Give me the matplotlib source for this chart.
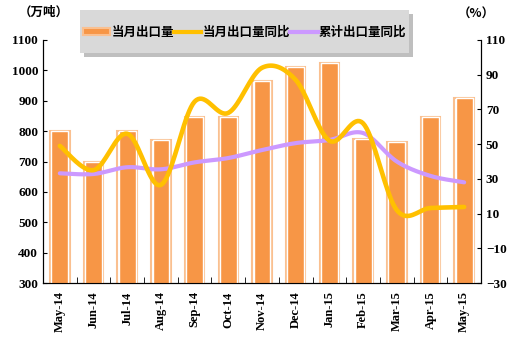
import numpy as np
import matplotlib
matplotlib.use("Agg")
import matplotlib.pyplot as plt
from matplotlib.patches import Patch, Rectangle
from matplotlib.lines import Line2D

plt.rcParams["font.family"] = ["Liberation Serif", "Noto Sans CJK SC", "DejaVu Sans"]

# data
months = ["May-14", "Jun-14", "Jul-14", "Aug-14", "Sep-14", "Oct-14", "Nov-14",
          "Dec-14", "Jan-15", "Feb-15", "Mar-15", "Apr-15", "May-15"]
export_vol = [800, 700, 800, 771, 847, 847, 965, 1010, 1023, 773, 763, 846, 910]
export_yoy = [49, 35, 56, 26.5, 74.5, 68, 94, 87, 52, 62, 12, 13.2, 13.8]
cum_yoy = [33.2, 32.8, 36.7, 35.5, 39.5, 42, 46.6, 50.6, 52.4, 56.4, 40, 31.7, 28]

ORANGE = "#F79646"
LIGHT = "#FAC090"
YELLOW = "#FFC000"
LAVENDER = "#CC99FF"
W, H = 520, 346


# excel-like smoothed line (catmull-rom between the points)
def smooth(x, y, n=20):
    x = np.asarray(x, float)
    y = np.asarray(y, float)
    px = np.concatenate([[x[0]], x, [x[-1]]])
    py = np.concatenate([[y[0]], y, [y[-1]]])
    xs, ys = [], []
    t = np.linspace(0, 1, n)
    for i in range(1, len(px) - 2):
        for arr, out in ((px, xs), (py, ys)):
            p0, p1, p2, p3 = arr[i - 1], arr[i], arr[i + 1], arr[i + 2]
            out.extend(0.5 * ((2 * p1) + (-p0 + p2) * t
                              + (2 * p0 - 5 * p1 + 4 * p2 - p3) * t ** 2
                              + (-p0 + 3 * p1 - 3 * p2 + p3) * t ** 3))
    return np.array(xs), np.array(ys)


fig = plt.figure(figsize=(W / 100, H / 100), dpi=100)
ax = fig.add_axes([43 / W, 1 - 283 / H, 438 / W, 243 / H])
x = np.arange(len(months))

ax.bar(x, export_vol, width=0.58, color="none", edgecolor=LIGHT, linewidth=1.5, zorder=2)
ax.bar(x, export_vol, width=0.5, color=ORANGE, edgecolor="white", linewidth=1.0, zorder=3)
ax.set_ylim(300, 1100)
ax.set_yticks(range(300, 1101, 100))
ax.set_xlim(-0.5, len(months) - 0.5)
ax.set_xticks(x)
ax.set_xticklabels(months, rotation=90, fontsize=9, fontweight="bold")
ax.set_xticks(np.arange(-0.5, len(months), 1), minor=True)
ax.tick_params(axis="x", which="major", length=0, pad=6)
ax.tick_params(axis="x", which="minor", direction="in", length=4)
ax.tick_params(axis="y", direction="in", length=3, labelsize=9.5)
for lab in ax.get_yticklabels():
    lab.set_fontweight("bold")

ax2 = ax.twinx()
sx, sy = smooth(x, export_yoy)
ax2.plot(sx, sy, color=YELLOW, linewidth=3.3, solid_capstyle="round", zorder=5)
cx, cy = smooth(x, cum_yoy)
ax2.plot(cx, cy, color=LAVENDER, linewidth=3.0, solid_capstyle="round", zorder=4)
ax2.set_ylim(-30, 110)
ax2.set_yticks(range(-30, 111, 20))
ax2.tick_params(axis="y", direction="in", length=3, labelsize=9.5)
for lab in ax2.get_yticklabels():
    lab.set_fontweight("bold")

for a in (ax, ax2):
    a.spines["top"].set_visible(False)

cjk = ["Noto Sans CJK SC", "DejaVu Sans"]
fig.text(44 / W, 1 - 12 / H, "（万吨）", fontsize=9, fontweight="bold",
         family=cjk, ha="center", va="center")
fig.text(476 / W, 1 - 14 / H, "（%）", fontsize=9, fontweight="bold",
         family=cjk, ha="center", va="center")

# legend box with shadow
bx0, by0, bx1, by1 = 80, 10, 409, 53
fig.patches.append(Rectangle(((bx0 + 4) / W, 1 - (by1 + 4) / H), (bx1 - bx0) / W, (by1 - by0) / H,
                             transform=fig.transFigure, facecolor="#BFBFBF", edgecolor="none",
                             zorder=8))
fig.patches.append(Rectangle((bx0 / W, 1 - by1 / H), (bx1 - bx0) / W, (by1 - by0) / H,
                             transform=fig.transFigure, facecolor="#D9D9D9", edgecolor="none",
                             zorder=9))

handles = [Patch(facecolor=ORANGE, edgecolor=LIGHT, linewidth=1.5),
           Line2D([], [], color=YELLOW, linewidth=3),
           Line2D([], [], color=LAVENDER, linewidth=3)]
labels = ["当月出口量", "当月出口量同比", "累计出口量同比"]
leg = fig.legend(handles, labels, ncol=3, loc="center", bbox_to_anchor=((bx0 + bx1) / 2 / W, 1 - 32 / H),
                 frameon=False, handlelength=2.2, handletextpad=0.1, handleheight=0.5,
                 columnspacing=0.0,
                 prop={"family": cjk, "weight": "bold", "size": 9})
leg.set_zorder(10)

fig.savefig("out.png", dpi=100)
